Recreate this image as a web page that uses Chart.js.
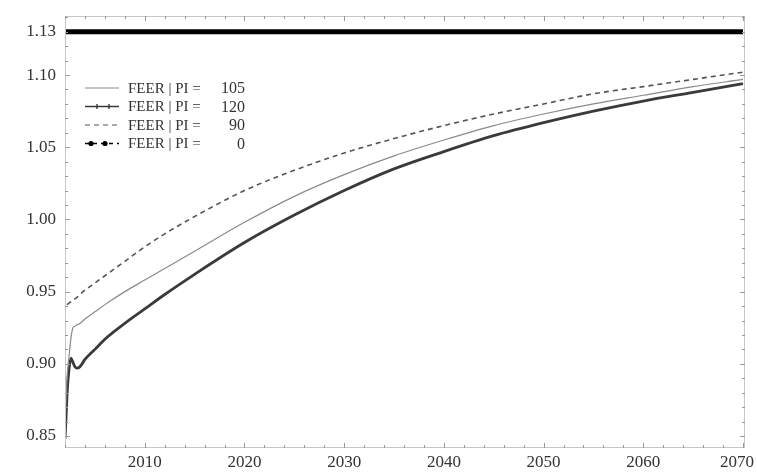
<!DOCTYPE html>
<html>
<head>
<meta charset="utf-8">
<script src="https://cdn.jsdelivr.net/npm/chart.js@4/dist/chart.umd.min.js"></script>
<style>
  html, body { margin: 0; padding: 0; background: #fff; }
  #wrap { width: 757px; height: 476px; }
</style>
</head>
<body>
<div id="wrap"><canvas id="c" width="757" height="476"></canvas></div>
<script>
// Years of the projection (dense at the start to catch the early adjustment)
const years = [2002, 2002.1, 2002.2, 2002.4, 2002.6, 2002.8, 2003, 2003.2, 2003.5, 2004, 2005, 2006, 2008,
               2010, 2012, 2015, 2020, 2025, 2030, 2035, 2040, 2045, 2050, 2055, 2060, 2065, 2070];

// FEER paths for each PI setting
const feerPI105 = [0.860, 0.875, 0.890, 0.905, 0.918, 0.925, 0.926, 0.927, 0.928, 0.931, 0.936, 0.941, 0.950,
                   0.958, 0.966, 0.978, 0.998, 1.016, 1.031, 1.044, 1.055, 1.065, 1.073, 1.080, 1.086, 1.092, 1.097];
const feerPI120 = [0.848, 0.862, 0.878, 0.896, 0.904, 0.901, 0.898, 0.897, 0.898, 0.903, 0.910, 0.917, 0.928,
                   0.938, 0.948, 0.962, 0.984, 1.003, 1.020, 1.035, 1.047, 1.058, 1.067, 1.075, 1.082, 1.088, 1.094];
const feerPI90  = [null, null, 0.941, 0.942, 0.943, 0.944, 0.945, 0.946, 0.948, 0.951, 0.956, 0.961, 0.971,
                   0.981, 0.990, 1.002, 1.020, 1.034, 1.046, 1.056, 1.065, 1.073, 1.080, 1.087, 1.092, 1.097, 1.102];
const feerPI0   = years.map(() => 1.13);

// Tick labels
const yTicks = [0.85, 0.90, 0.95, 1.00, 1.05, 1.10, 1.13];
const xTicks = [2010, 2020, 2030, 2040, 2050, 2060, 2070];

// Legend entries
const legendNames = ['FEER | PI =', 'FEER | PI =', 'FEER | PI =', 'FEER | PI ='];
const legendValues = ['105', '120', '90', '0'];

const toPoints = arr => arr.map((v, i) => ({ x: years[i], y: v }));
const serif = '"Liberation Serif", "DejaVu Serif", serif';

const frameAndLegend = {
  id: 'frameAndLegend',
  afterDraw(chart) {
    const { ctx, chartArea: a, scales, width } = chart;
    ctx.save();
    // light frame
    ctx.strokeStyle = '#c8c8c8';
    ctx.lineWidth = 1;
    ctx.strokeRect(a.left + 0.5, a.top + 0.5, a.right - a.left - 1, a.bottom - a.top - 1);
    // inward ticks
    ctx.strokeStyle = '#999';
    for (let v = 0.85; v <= 1.1401; v += 0.01) {
      const y = Math.round(scales.y.getPixelForValue(v)) + 0.5;
      const major = Math.abs(v * 20 - Math.round(v * 20)) < 1e-6;
      const len = major ? 5 : 3;
      ctx.beginPath(); ctx.moveTo(a.left, y); ctx.lineTo(a.left + len, y);
      ctx.moveTo(a.right, y); ctx.lineTo(a.right - len, y); ctx.stroke();
    }
    for (let yr = 2002; yr <= 2070; yr += 2) {
      const x = Math.round(scales.x.getPixelForValue(yr)) + 0.5;
      const len = yr % 10 === 0 ? 5 : 3;
      ctx.beginPath(); ctx.moveTo(x, a.bottom); ctx.lineTo(x, a.bottom - len);
      ctx.moveTo(x, a.top); ctx.lineTo(x, a.top + len); ctx.stroke();
    }
    // year labels under the axis, kept inside the canvas
    ctx.fillStyle = '#333';
    ctx.font = '17px ' + serif;
    ctx.textBaseline = 'middle';
    ctx.textAlign = 'center';
    scales.x.ticks.forEach(t => {
      const label = String(t.value);
      const half = ctx.measureText(label).width / 2;
      const x = Math.min(scales.x.getPixelForValue(t.value), width - 3 - half);
      ctx.fillText(label, x, a.bottom + 15);
    });
    // legend
    const lx = a.left + 20, ly0 = a.top + 72, dy = 18.5;
    chart.data.datasets.forEach((ds, i) => {
      const y = ly0 + i * dy;
      ctx.strokeStyle = ds.borderColor;
      ctx.fillStyle = ds.borderColor;
      if (i === 0) {
        ctx.lineWidth = 1; ctx.setLineDash([]);
        ctx.beginPath(); ctx.moveTo(lx, y); ctx.lineTo(lx + 34, y); ctx.stroke();
      } else if (i === 1) {
        ctx.lineWidth = 1.4; ctx.setLineDash([]);
        ctx.beginPath(); ctx.moveTo(lx, y); ctx.lineTo(lx + 34, y); ctx.stroke();
        [lx + 12, lx + 24].forEach(px => { ctx.beginPath(); ctx.moveTo(px, y - 2.5); ctx.lineTo(px, y + 2.5); ctx.stroke(); });
      } else if (i === 2) {
        ctx.lineWidth = 1.2; ctx.setLineDash([5, 4]);
        ctx.beginPath(); ctx.moveTo(lx, y); ctx.lineTo(lx + 34, y); ctx.stroke();
        ctx.setLineDash([]);
      } else {
        ctx.lineWidth = 1.5; ctx.setLineDash([4, 4]);
        ctx.beginPath(); ctx.moveTo(lx, y); ctx.lineTo(lx + 34, y); ctx.stroke();
        ctx.setLineDash([]);
        [lx + 6, lx + 20].forEach(px => { ctx.beginPath(); ctx.arc(px, y, 2.6, 0, Math.PI * 2); ctx.fill(); });
      }
      ctx.fillStyle = '#333';
      ctx.font = '15px ' + serif;
      ctx.textBaseline = 'middle';
      ctx.textAlign = 'left';
      ctx.fillText(legendNames[i], lx + 43, y + 1);
      ctx.textAlign = 'right';
      ctx.font = '16px ' + serif;
      ctx.fillText(legendValues[i], lx + 160, y + 1);
    });
    ctx.restore();
  }
};

new Chart(document.getElementById('c'), {
  type: 'line',
  data: {
    datasets: [
      { label: 'FEER | PI = 105', data: toPoints(feerPI105), borderColor: '#8a8a8a', borderWidth: 1.2 },
      { label: 'FEER | PI = 120', data: toPoints(feerPI120), borderColor: '#3a3a3a', borderWidth: 2.8 },
      { label: 'FEER | PI = 90',  data: toPoints(feerPI90),  borderColor: '#555555', borderWidth: 1.6, borderDash: [5, 4] },
      { label: 'FEER | PI = 0',   data: toPoints(feerPI0),   borderColor: '#000000', borderWidth: 5 }
    ]
  },
  options: {
    responsive: false,
    animation: false,
    devicePixelRatio: 1,
    layout: { padding: { top: 16, right: 12, left: 0, bottom: 0 } },
    elements: { point: { radius: 0 }, line: { cubicInterpolationMode: 'monotone', fill: false } },
    plugins: { legend: { display: false }, tooltip: { enabled: false } },
    scales: {
      x: {
        type: 'linear', min: 2002, max: 2070.2,
        afterBuildTicks: s => { s.ticks = xTicks.map(v => ({ value: v })); },
        afterFit: s => { s.height = 28; s.paddingLeft = 0; s.paddingRight = 0; },
        grid: { display: false, drawTicks: false },
        border: { display: false },
        ticks: { display: false }
      },
      y: {
        type: 'linear', min: 0.8417, max: 1.1409,
        afterBuildTicks: s => { s.ticks = yTicks.map(v => ({ value: v })); },
        afterFit: s => { s.width = 65; s.paddingTop = 0; s.paddingBottom = 0; },
        grid: { display: false, drawTicks: false },
        border: { display: false },
        ticks: { color: '#333', font: { family: serif, size: 17 }, padding: 9,
                 callback: v => Number(v).toFixed(2) }
      }
    }
  },
  plugins: [frameAndLegend]
});
</script>
</body>
</html>
